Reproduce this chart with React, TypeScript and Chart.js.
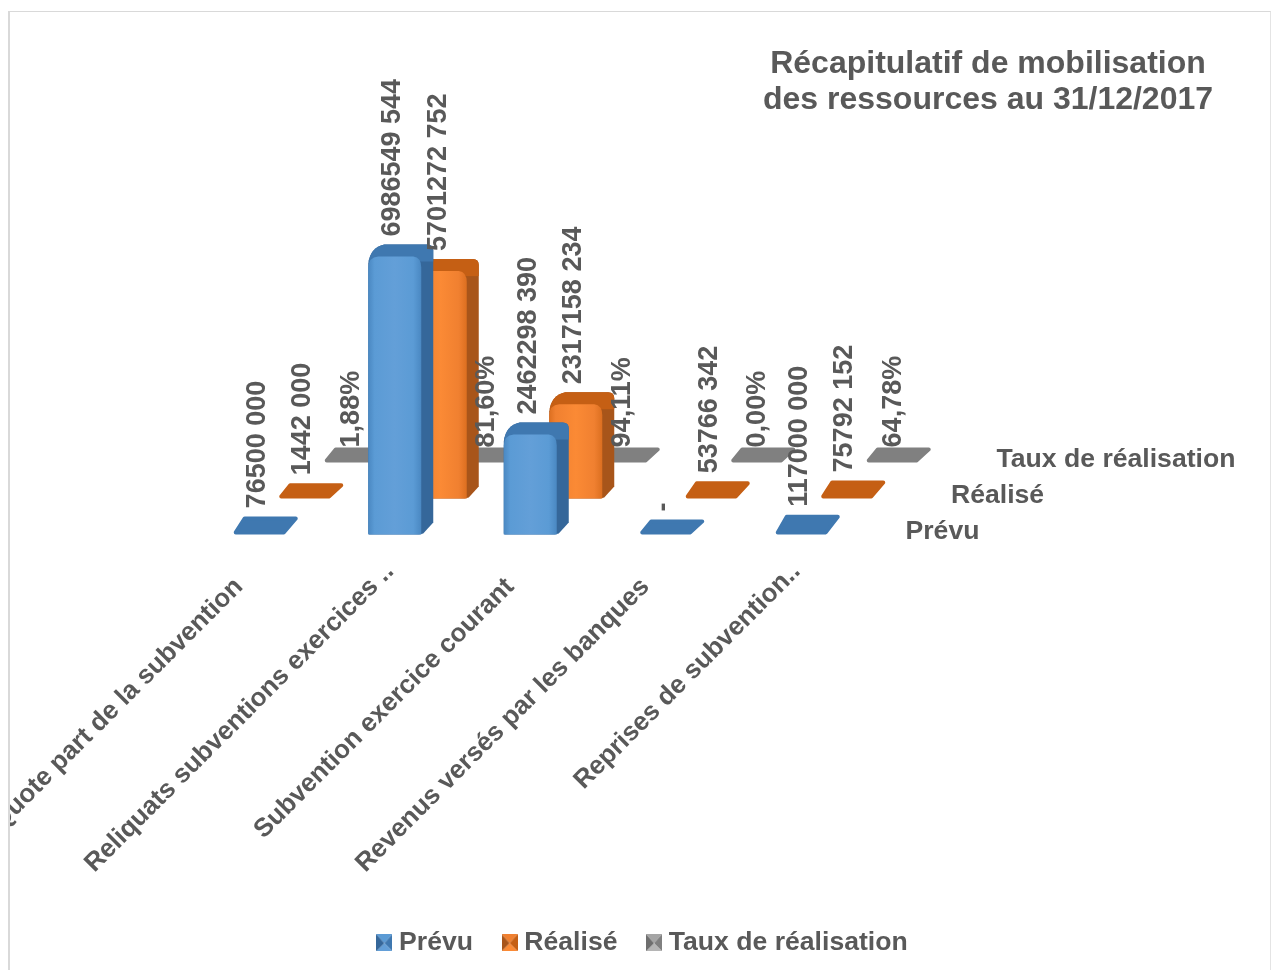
import React, { useEffect, useRef } from "react";
import { Chart, registerables } from "chart.js";

Chart.register(...registerables);

const categories = [
  "Quote part de la subvention",
  "Reliquats subventions exercices ..",
  "Subvention exercice courant",
  "Revenus versés par les banques",
  "Reprises de subvention..",
];
const seriesNames = ["Prévu", "Réalisé", "Taux de réalisation"];
const prevu = [76500000, 6986549544, 2462298390, 0, 117000000];
const realise = [1442000, 5701272752, 2317158234, 53766342, 75792152];
const taux = [0.0188, 0.816, 0.9411, 0, 0.6478];
const prevuLabels = ["76500 000", "6986549 544", "2462298 390", "-", "117000 000"];
const realiseLabels = ["1442 000", "5701272 752", "2317158 234", "53766 342", "75792 152"];
const tauxLabels = ["1,88%", "81,60%", "94,11%", "0,00%", "64,78%"];
const titleLines = ["Récapitulatif de mobilisation", "des ressources au 31/12/2017"];

const TEXT = "#595959";
const FONT = "'Liberation Sans', Arial, sans-serif";
const SIZE = 26;
const shift = [
  { x: 0, y: 0, label: -23, labelX: -2 },
  { x: 45.5, y: -36, label: -23, labelX: -2 },
  { x: 91, y: -72, label: -15, labelX: 1 },
];
const DX = 12;
const DY = -15;
const palette = [
  { main: "#5b9bd5", edge: "#4a88c2", top: "#3f78b0", side: "#35679a", light: "#639fd8" },
  { main: "#f08030", edge: "#dc6f20", top: "#c55f14", side: "#a8551a", light: "#fb8a35" },
  { main: "#a5a5a5", edge: "#969696", top: "#808080", side: "#6e6e6e", light: "#b5b5b5" },
];

function tallShape(c: CanvasRenderingContext2D, L: number, R: number, T: number, B: number) {
  c.beginPath();
  c.moveTo(L + 1, B);
  c.lineTo(L, B - 1);
  c.lineTo(L, T + 4);
  c.quadraticCurveTo(L + 2, T + DY + 3, L + DX + 4, T + DY);
  c.lineTo(R + DX - 6, T + DY);
  c.quadraticCurveTo(R + DX, T + DY, R + DX, T + DY + 6);
  c.lineTo(R + DX, B + DY + 3);
  c.lineTo(R + 2, B - 1);
  c.lineTo(R - 2, B);
  c.closePath();
}

function slabShape(c: CanvasRenderingContext2D, L: number, R: number, T: number, B: number) {
  c.beginPath();
  c.moveTo(L + 3, B - 2);
  c.lineTo(L + DX, T + DY + 2);
  c.lineTo(R + DX - 2, T + DY + 2);
  c.lineTo(R - 2, B - 2);
  c.closePath();
}

const bars3d = {
  id: "bars3d",
  beforeDatasetDraw(chart: any, args: any) {
    const c: CanvasRenderingContext2D = chart.ctx;
    const i = args.index;
    const o = shift[i];
    const p = palette[i];
    c.save();
    args.meta.data.forEach((el: any) => {
      const w = el.width;
      const L = el.x - w / 2 + o.x;
      const R = el.x + w / 2 + o.x;
      const T = el.y + o.y;
      const B = el.base + o.y;
      if (B - T > 8) {
        tallShape(c, L, R, T, B);
        c.fillStyle = p.side;
        c.fill();
        c.save();
        c.clip();
        c.fillStyle = p.top;
        c.fillRect(L - 2, T + DY - 2, w + DX + 4, -DY + 4);
        c.restore();
        const g = c.createLinearGradient(L, 0, R, 0);
        g.addColorStop(0, p.edge);
        g.addColorStop(0.12, p.main);
        g.addColorStop(0.5, p.light);
        g.addColorStop(0.85, p.main);
        g.addColorStop(1, p.edge);
        c.fillStyle = g;
        c.beginPath();
        c.moveTo(L, B);
        c.lineTo(L, T + 8);
        c.quadraticCurveTo(L, T - 2, L + 10, T - 3);
        c.lineTo(R - 8, T - 3);
        c.quadraticCurveTo(R, T - 2, R, T + 8);
        c.lineTo(R, B);
        c.closePath();
        c.fill();
      } else {
        slabShape(c, L, R, T, B);
        c.fillStyle = p.top;
        c.strokeStyle = p.top;
        c.lineWidth = 4;
        c.lineJoin = "round";
        c.fill();
        c.stroke();
      }
    });
    c.restore();
    return false;
  },
  afterDatasetsDraw(chart: any) {
    const c: CanvasRenderingContext2D = chart.ctx;
    const lists = [prevuLabels, realiseLabels, tauxLabels];
    c.save();
    c.fillStyle = TEXT;
    c.textBaseline = "middle";
    chart.data.datasets.forEach((_: any, i: number) => {
      const meta = chart.getDatasetMeta(i);
      const o = shift[i];
      c.font = `bold 27px ${FONT}`;
      meta.data.forEach((el: any, k: number) => {
        c.save();
        c.translate(el.x + o.x + o.labelX, el.y + o.y + o.label);
        c.rotate(-Math.PI / 2);
        c.textAlign = "left";
        c.fillText(lists[i][k], 0, 0);
        c.restore();
      });
      c.font = `bold 26.6px ${FONT}`;
      c.textAlign = "left";
      c.fillText(seriesNames[i], chart.scales.x.right + 36.5 + o.x, chart.scales.y.bottom + o.y - 3);
    });
    c.restore();
  },
  afterLayout(chart: any) {
    const t = chart.titleBlock;
    if (t) {
      t.left = 700;
      t.right = 1256;
      t.top = 34;
      t.bottom = 106;
    }
    const l = chart.legend;
    if (l) {
      l.left += 115;
      l.right += 115;
    }
  },
};

function legendIcon(p: (typeof palette)[number]) {
  const cv = document.createElement("canvas");
  cv.width = 16;
  cv.height = 17;
  const c = cv.getContext("2d")!;
  const tri = (col: string, pts: number[]) => {
    c.fillStyle = col;
    c.beginPath();
    c.moveTo(pts[0], pts[1]);
    c.lineTo(pts[2], pts[3]);
    c.lineTo(pts[4], pts[5]);
    c.closePath();
    c.fill();
  };
  tri(p.main, [0, 0, 16, 0, 8, 9]);
  tri(p.top, [16, 0, 16, 17, 8, 9]);
  tri(p.light, [0, 17, 16, 17, 8, 9]);
  tri(p.side, [0, 0, 0, 17, 8, 9]);
  return cv;
}

export default function App() {
  const ref = useRef<HTMLCanvasElement>(null);
  useEffect(() => {
    const series = [prevu, realise, taux];
    const chart = new Chart(ref.current!, {
      type: "bar",
      data: {
        labels: categories,
        datasets: series.map((values, i) => ({
          label: seriesNames[i],
          data: values,
          backgroundColor: palette[i].main,
          barThickness: 53,
          grouped: false,
        })),
      },
      plugins: [bars3d],
      options: {
        animation: false,
        responsive: false,
        layout: { padding: { left: 181.5, right: 411, top: 55, bottom: 0 } },
        scales: {
          x: {
            grid: { display: false },
            border: { display: false },
            ticks: {
              autoSkip: false,
              minRotation: 45,
              maxRotation: 45,
              padding: 14,
              labelOffset: -5,
              color: TEXT,
              font: { family: FONT, size: SIZE, weight: "bold" },
              callback(this: any, v: any) {
                const s = this.getLabelForValue(v);
                return s.endsWith("..") ? s : s + "   ";
              },
            },
            afterFit(s: any) {
              s.height = 360;
              s.paddingLeft = 0;
              s.paddingRight = 0;
            },
          },
          y: { display: false, min: 0, max: 10050000000 },
        },
        plugins: {
          tooltip: { enabled: false },
          title: {
            display: true,
            text: titleLines,
            color: TEXT,
            padding: 0,
            font: { family: FONT, size: 32, weight: "bold", lineHeight: 1.125 },
          },
          legend: {
            position: "bottom",
            onClick: () => {},
            labels: {
              color: TEXT,
              padding: 35,
              usePointStyle: true,
              pointStyleWidth: 3,
              font: { family: FONT, size: 26.6, weight: "bold" },
              generateLabels: () =>
                seriesNames.map((n, i) => ({
                  text: n,
                  fontColor: TEXT,
                  pointStyle: legendIcon(palette[i]),
                  datasetIndex: i,
                  hidden: false,
                  lineWidth: 0,
                })),
            },
          },
        },
      } as any,
    });
    return () => chart.destroy();
  }, []);
  return (
    <div
      style={{
        position: "fixed",
        left: 8,
        top: 11,
        width: 1263,
        height: 959,
        boxSizing: "border-box",
        borderLeft: "2px solid #d9d9d9",
        borderTop: "1px solid #d9d9d9",
        borderRight: "1px solid #e4e4e4",
        background: "#fff",
        overflow: "hidden",
      }}
    >
      <canvas ref={ref} width={1270} height={954} style={{ display: "block", width: 1270, height: 954 }} />
    </div>
  );
}
